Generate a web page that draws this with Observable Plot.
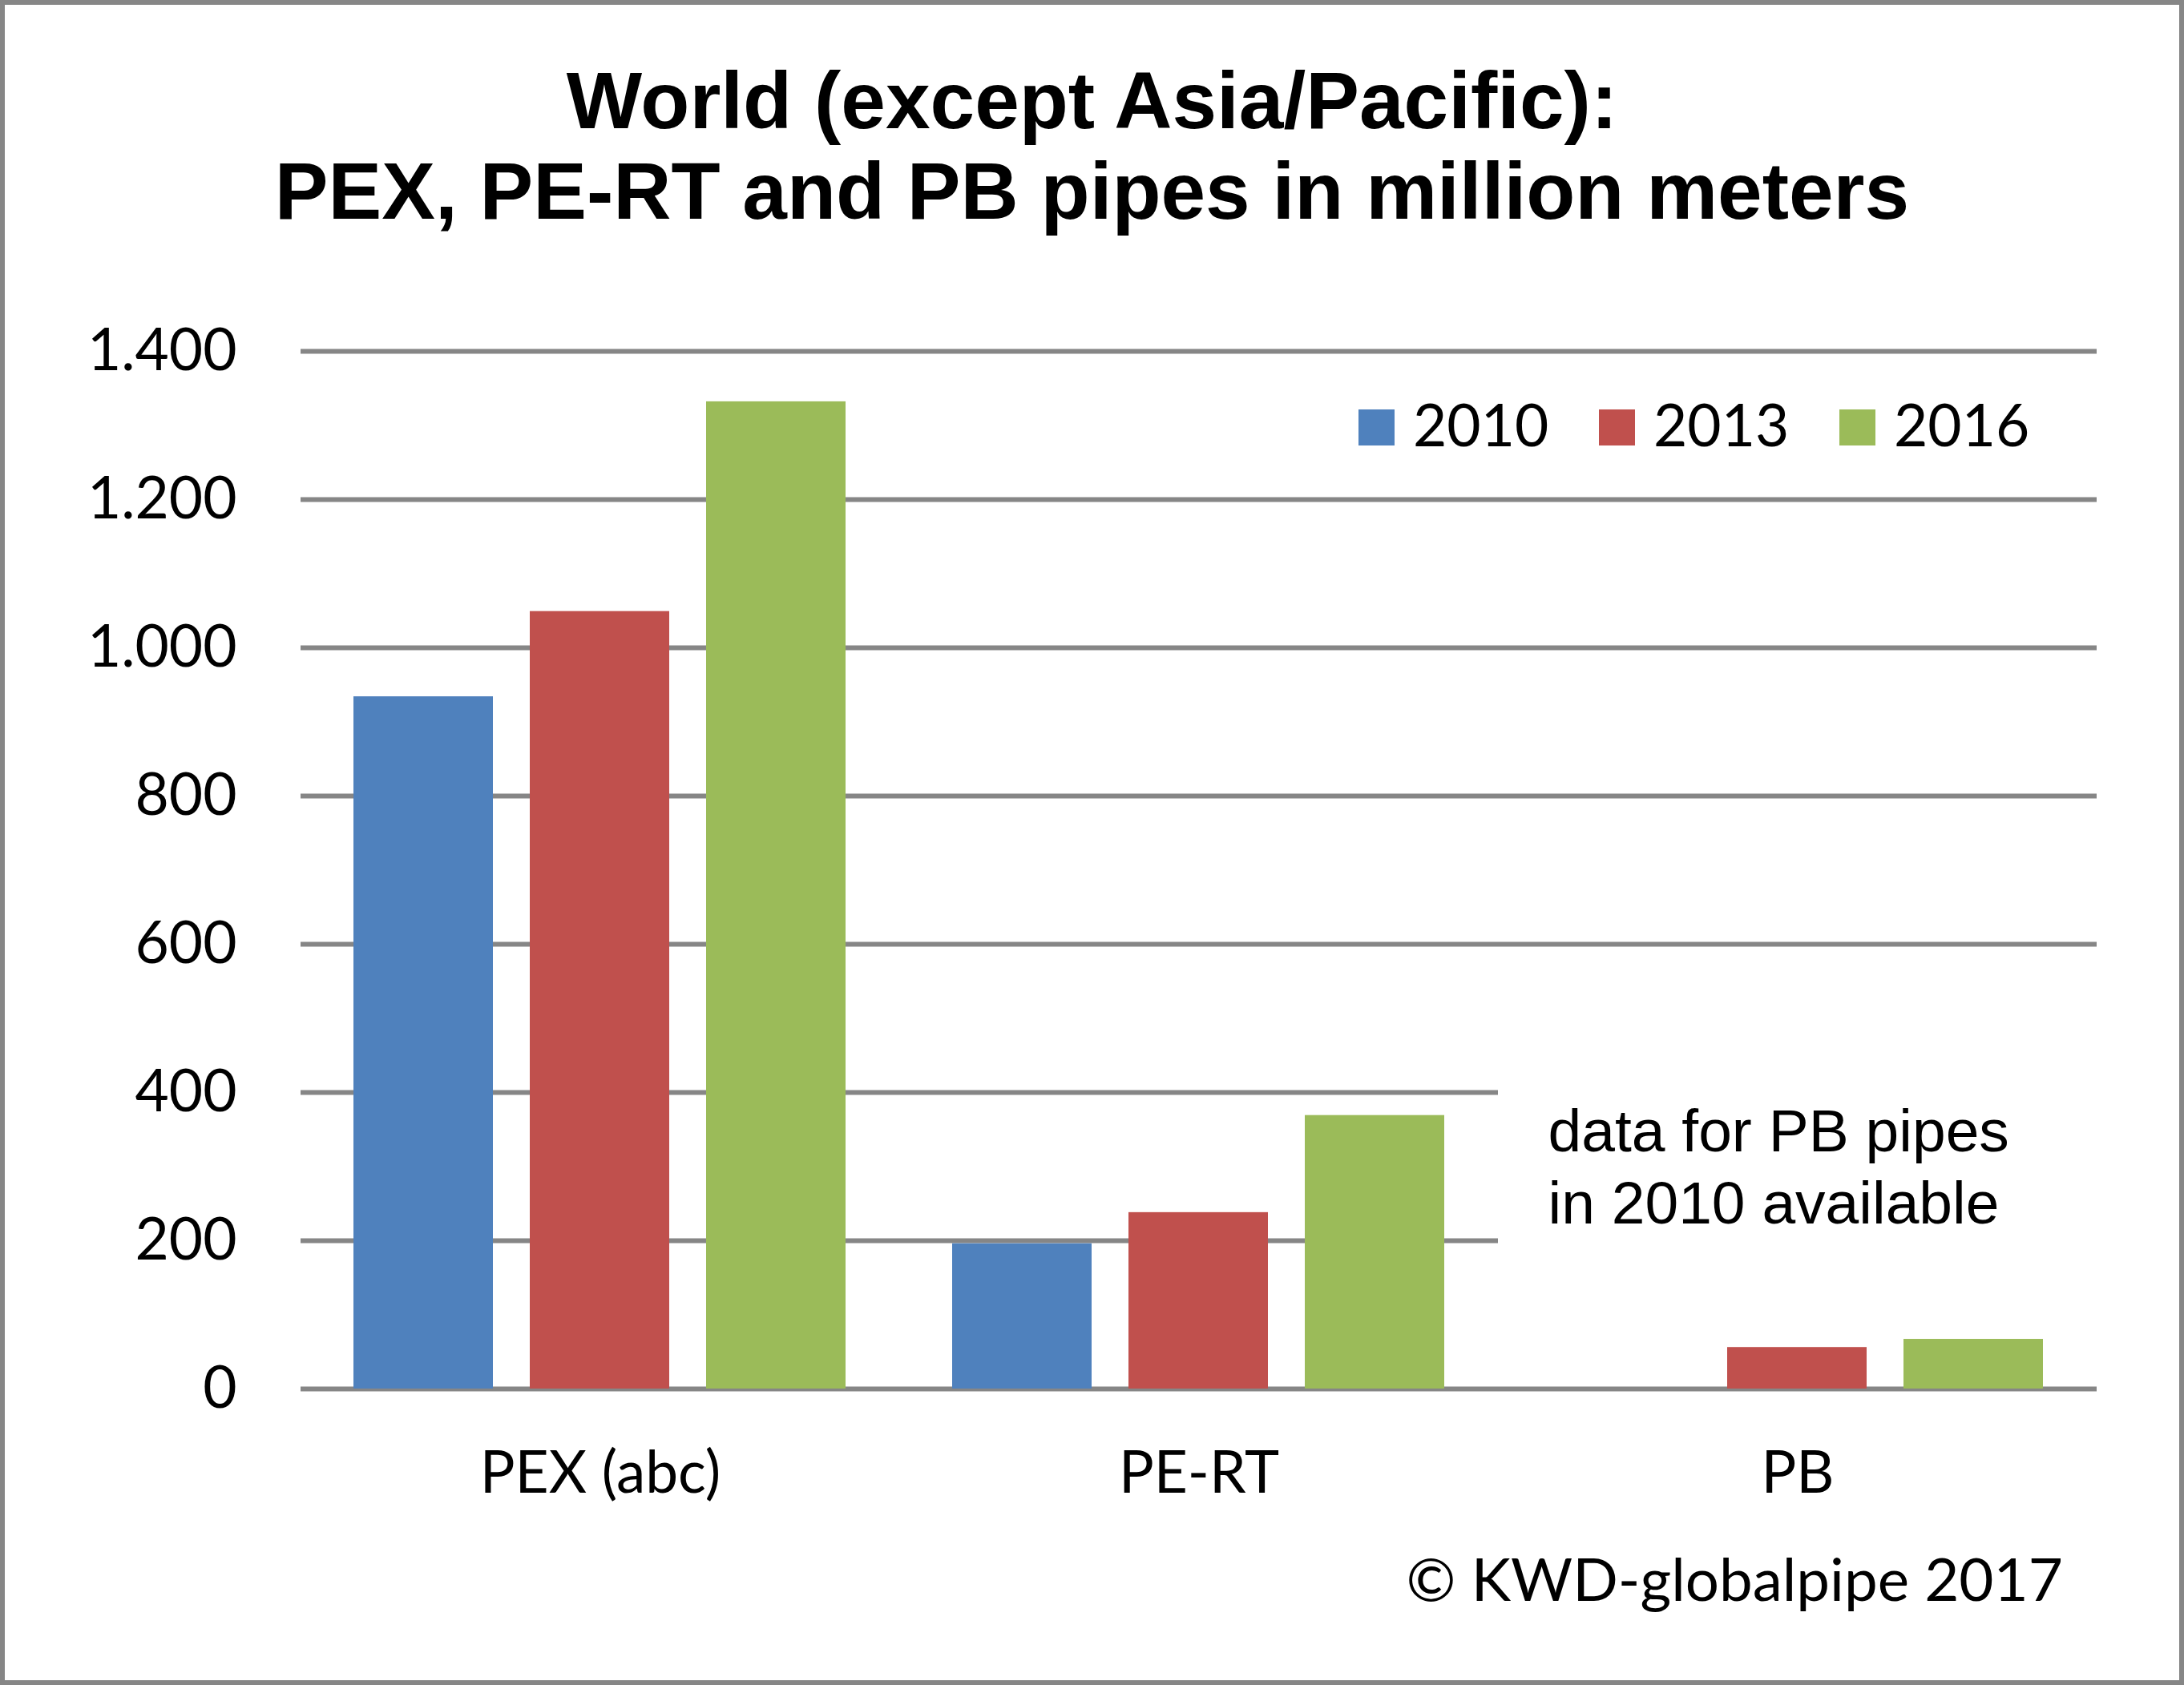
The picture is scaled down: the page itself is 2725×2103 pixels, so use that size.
<!DOCTYPE html>
<html>
<head>
<meta charset="utf-8">
<script src="https://cdn.jsdelivr.net/npm/d3@7"></script>
<script src="https://cdn.jsdelivr.net/npm/@observablehq/plot@0.6"></script>
<style>
  html, body { margin: 0; padding: 0; background: #fff; }
  #wrap { position: relative; width: 2725px; height: 2103px; background: #fff; overflow: hidden; }
  #border { position: absolute; left: 0; top: 0; width: 2725px; height: 2103px; box-sizing: border-box; border: 6px solid #868686; pointer-events: none; z-index: 10; }
  #title { position: absolute; left: 0; top: 69px; width: 2725px; text-align: center; font-family: "Liberation Sans", Arial, sans-serif; font-weight: bold; font-size: 100px; line-height: 113px; color: #000; }
  #chart { position: absolute; left: 0; top: 380px; }
  #legend { position: absolute; left: 1695px; top: 511px; display: flex; font-family: Lato, "Open Sans", sans-serif; font-size: 73px; color: #000; }
  .item { display: flex; align-items: center; height: 45px; width: 300px; }
  .sw { width: 45px; height: 45px; margin-right: 23px; flex: none; }
  .lbl { line-height: 45px; transform: translateY(-4px); }
  #credit { position: absolute; right: 151px; top: 1932px; font-family: Lato, "Open Sans", sans-serif; font-size: 74.5px; line-height: 74.5px; color: #000; white-space: nowrap; }
</style>
</head>
<body>
<div id="wrap">
  <div id="title"></div>
  <div id="chart"></div>
  <div id="legend"></div>
  <div id="credit"></div>
  <div id="border"></div>
</div>
<script>
// ---- data ----
const titleLines = ["World (except Asia/Pacific):", "PEX, PE-RT and PB pipes in million meters"];
const categories = ["PEX (abc)", "PE-RT", "PB"];
const years = ["2010", "2013", "2016"];
const values2010 = [934, 196, null];
const values2013 = [1049, 238, 56];
const values2016 = [1332, 369, 67];
const yTicks = [0, 200, 400, 600, 800, 1000, 1200, 1400];
const gridHiddenInPB = [200, 400];
const colors = ["#4F81BD", "#C0504D", "#9BBB59"];
const noteText = "data for PB pipes\nin 2010 available";
const creditText = "© KWD-globalpipe 2017";

// ---- build tables ----
const seriesValues = [values2010, values2013, values2016];
const bars = [];
categories.forEach((cat, i) => {
  years.forEach((yr, j) => {
    const v = seriesValues[j][i];
    if (v != null) bars.push({cat, year: yr, value: v});
  });
});
const grid = [];
categories.forEach(cat => {
  yTicks.forEach(t => {
    if (cat === "PB" && gridHiddenInPB.includes(t)) return;
    grid.push({cat, v: t});
  });
});

const fmt = d3.formatLocale({decimal: ",", thousands: ".", grouping: [3], currency: ["", ""]}).format(",d");

document.getElementById("title").innerHTML = titleLines.join("<br>");
document.getElementById("credit").textContent = creditText;
const legend = document.getElementById("legend");
years.forEach((y, i) => {
  const it = document.createElement("div");
  it.className = "item";
  it.innerHTML = `<div class="sw" style="background:${colors[i]}"></div><div class="lbl">${y}</div>`;
  legend.appendChild(it);
});

const plot = Plot.plot({
  width: 2725,
  height: 1520,
  marginLeft: 374,
  marginRight: 109,
  marginTop: 58,
  marginBottom: 167,
  style: {fontFamily: "Lato, 'Open Sans', sans-serif", fontSize: "73px", color: "#000", background: "transparent", overflow: "visible"},
  fx: {domain: categories, padding: 0, label: null, tickSize: 0, tickPadding: 78, axis: "bottom"},
  x: {domain: years, paddingInner: 0.209, paddingOuter: 0.302, axis: null},
  y: {domain: [0, 1400], ticks: yTicks, tickFormat: fmt, tickSize: 0, tickPadding: 80, label: null},
  color: {domain: years, range: colors},
  marks: [
    Plot.ruleY(grid, {fx: "cat", y: "v", stroke: "#868686", strokeWidth: 6}),
    Plot.barY(bars, {fx: "cat", x: "year", y: "value", fill: "year"}),
    Plot.text([{cat: "PB"}], {
      fx: "cat", frameAnchor: "top-left", text: () => noteText,
      textAnchor: "start", lineAnchor: "top", lineHeight: 1.2,
      dx: 62, dy: 935, fontSize: 75, fontFamily: "'Liberation Sans', Arial, sans-serif", fill: "#000"
    })
  ]
});
document.getElementById("chart").appendChild(plot);
</script>
</body>
</html>
